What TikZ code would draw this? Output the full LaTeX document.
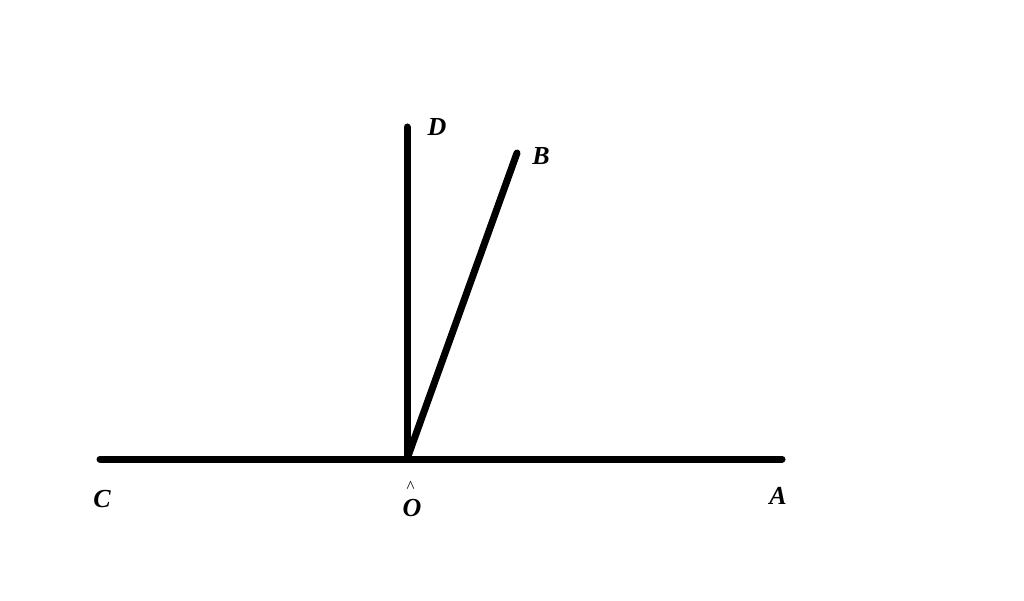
\documentclass[tikz,border=0pt]{standalone}
\usepackage{fontspec}
\setmainfont{Liberation Serif}
\usepackage{tikz}
\tikzset{
    ray/.style={line width=7pt, line cap=round},
    pointname/.style={font=\fontsize{26}{30}\selectfont\bfseries\itshape, inner sep=0pt}
}
\begin{document}
\begin{tikzpicture}[x=1pt,y=-1pt]
    \useasboundingbox (0,0) rectangle (1024,601);
    % Points
    \coordinate (O) at (407, 459);
    \coordinate (C) at (100, 459);
    \coordinate (A) at (782, 459);
    \coordinate (D) at (407, 127);
    \coordinate (B) at (517, 153);
    % Rays
    \draw[ray] (C) -- (A);
    \draw[ray] (O) -- (D);
    \draw[ray] (O) -- (B);
    % Labels
    \node[pointname, align=center, anchor=south] (labO) at (412, 517)
        {{\fontsize{17}{17}\selectfont\mdseries\upshape\hspace{-3pt}\^{}}\\[-6pt]O};
    \node[pointname] (labD) at (437, 127) {D};
    \node[pointname] (labB) at (541, 156) {B};
    \node[pointname] (labC) at (102, 499) {C};
    \node[pointname] (labA) at (778, 496) {A};
\end{tikzpicture}
\end{document}
